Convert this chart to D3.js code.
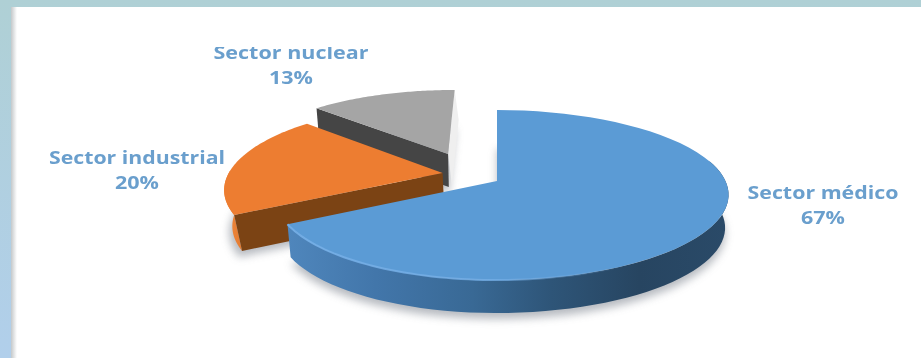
<!DOCTYPE html>
<html>
<head>
<meta charset="utf-8">
<script src="https://cdnjs.cloudflare.com/ajax/libs/d3/7.8.5/d3.min.js"></script>
<style>
html,body{margin:0;padding:0;background:#fff;overflow:hidden}
svg{display:block}
text{font-family:"Open Sans",Lato,sans-serif;font-weight:700;text-anchor:middle}
</style>
</head>
<body>
<svg id="chart" width="921" height="358"></svg>
<script>
// Share of each sector, in percent
const sectors = ["Sector médico", "Sector industrial", "Sector nuclear"];
const shares = [67, 20, 13];

const faceColors = ["#5b9bd5", "#ed7d31", "#a5a5a5"];
const wallColors = ["#2f5f8f", "#7b4314", "#454545"];
const labelColor = "#6a9fcd";

// Exploded offset of each slice on the pie's own plane (unit radius)
const explodeX = [0, -0.248, -0.232];
const explodeY = [0, -0.098, -0.345];
const baseShrink = [0.985, 0.97, 0.985];
const wallDepth = [33, 36, 33];
const labelX = [823, 137, 291];
const labelY = [199, 164, 59];
const nameWidth = [151, 176, 155];
const percentWidth = 44;

// Projection of the tilted disc on to the page
const W = 921, H = 358;
const cx = 497, cy = 181, rx = 224, ry = 82.7, persp = 0.165, skew = 0.02;

const svg = d3.select("#chart");
const defs = svg.append("defs");

const project = (a, b) => {
  const k = 1 / (1 - persp * b);
  return [cx + rx * a * k * (1 + skew * a), cy + ry * b * k];
};
const lower = (i) => ([x, y]) => [cx + (x - cx) * baseShrink[i], y + wallDepth[i]];

// Page frame gradient and panel shadow
const frame = defs.append("linearGradient").attr("id", "frame")
  .attr("x1", 0).attr("x2", 0).attr("y1", 0).attr("y2", 1);
frame.append("stop").attr("offset", 0).attr("stop-color", "#afd0d5");
frame.append("stop").attr("offset", 1).attr("stop-color", "#b1cfeb");

const panelShade = defs.append("linearGradient").attr("id", "panelShade");
panelShade.append("stop").attr("offset", 0).attr("stop-color", "#c4c8ca");
panelShade.append("stop").attr("offset", 1).attr("stop-color", "#ffffff");

// Gradient along the curved wall of the large slice
const blueWall = defs.append("linearGradient").attr("id", "blueWall")
  .attr("gradientUnits", "userSpaceOnUse")
  .attr("x1", 288).attr("x2", 727).attr("y1", 0).attr("y2", 0);
[[0, "#4f86bc"], [0.2, "#4276aa"], [0.42, "#396995"], [0.6, "#2e5578"], [0.8, "#274561"], [1, "#2a4a68"]]
  .forEach(([o, c]) => blueWall.append("stop").attr("offset", o).attr("stop-color", c));

const orangeRim = defs.append("linearGradient").attr("id", "orangeRim")
  .attr("gradientUnits", "userSpaceOnUse")
  .attr("x1", 218).attr("x2", 245).attr("y1", 0).attr("y2", 0);
orangeRim.append("stop").attr("offset", 0).attr("stop-color", "#f68c40");
orangeRim.append("stop").attr("offset", 1).attr("stop-color", "#e27a30");

// Highlight strength fades out before the stroke ends on the right
const blueEdge = defs.append("linearGradient").attr("id", "blueEdge")
  .attr("gradientUnits", "userSpaceOnUse")
  .attr("x1", 288).attr("x2", 625).attr("y1", 0).attr("y2", 0);
[[0, 0.95], [0.6, 0.8], [1, 0]].forEach(([o, a]) => blueEdge.append("stop")
  .attr("offset", o).attr("stop-color", "#74aee6").attr("stop-opacity", a));

const soft = defs.append("filter").attr("id", "soft")
  .attr("x", "-10%").attr("y", "-20%").attr("width", "120%").attr("height", "140%");
soft.append("feGaussianBlur").attr("stdDeviation", 4);
const lineSoft = defs.append("filter").attr("id", "lineSoft")
  .attr("x", "-5%").attr("y", "-5%").attr("width", "110%").attr("height", "110%");
lineSoft.append("feGaussianBlur").attr("stdDeviation", 0.5);

// Letters of the top label run off the edge of the chart area
defs.append("clipPath").attr("id", "plotClip")
  .append("rect").attr("x", 0).attr("y", 47).attr("width", W).attr("height", H - 47);

// Frame behind the white panel
svg.append("rect").attr("width", W).attr("height", H).attr("fill", "url(#frame)");
svg.append("rect").attr("x", 11).attr("y", 7).attr("width", W - 11).attr("height", H - 7).attr("fill", "#fff");
svg.append("rect").attr("x", 11).attr("y", 7).attr("width", 6).attr("height", H - 7).attr("fill", "url(#panelShade)");

const angles = d3.pie().sort(null)(shares);
const line = d3.line();

// Sample the outer edge of one slice between two angles
const edge = (i, t0, t1) => d3.range(0, 61).map(j => {
  const t = t0 + (t1 - t0) * j / 60;
  return project(Math.sin(t) + explodeX[i], -Math.cos(t) + explodeY[i]);
});
const apex = i => project(explodeX[i], explodeY[i]);

const slices = angles.map((d, i) => ({
  i,
  start: d.startAngle,
  end: d.endAngle,
  top: [apex(i), ...edge(i, d.startAngle, d.endAngle)]
}));

// Soft ground shadow below all the slices
const shadow = svg.append("g").attr("filter", "url(#soft)").attr("fill", "#a4a9b0").attr("opacity", 0.8);
slices.forEach(s => shadow.append("path")
  .attr("d", line(s.top.map(p => { const q = lower(s.i)(p); return [q[0] - (s.i === 1 ? 3 : 0), q[1] + 6]; })) + "Z"));

// Back to front: nuclear, industrial, medical
[2, 1, 0].forEach(i => {
  const s = slices[i];
  const g = svg.append("g").attr("class", "slice");
  const drop = lower(i);
  const pEnd = s.top[s.top.length - 1];
  const pStart = s.top[1];
  const c = s.top[0];

  if (i === 2) {
    // Faint shade to the right, then the cut wall facing the viewer
    g.append("path").attr("fill", "#efefef").attr("filter", "url(#lineSoft)")
      .attr("d", line([pEnd, [pEnd[0] + 4, pEnd[1] + 30], [c[0] + 4, c[1] + 32], c]) + "Z");
    g.append("path").attr("fill", wallColors[2])
      .attr("d", line([pStart, c, drop(c), drop(pStart)]) + "Z");
  }
  if (i === 1) {
    // Curved rim, then the cut wall in front of it
    const rim = edge(1, s.start, s.start + (Math.PI * 2 * 0.085));
    g.append("path").attr("fill", "url(#orangeRim)")
      .attr("d", line([...rim, ...rim.map(drop).reverse()]) + "Z");
    g.append("path").attr("fill", wallColors[1])
      .attr("d", line([c, s.top[1], drop(s.top[1]), drop(c)]) + "Z");
  }
  if (i === 0) {
    // Outer wall from the front round to the far right
    const rim = edge(0, Math.PI * 0.42, s.end);
    g.append("path").attr("fill", "url(#blueWall)")
      .attr("d", line([...rim, ...rim.map(drop).reverse()]) + "Z");
  }

  g.append("path").attr("fill", faceColors[i]).attr("d", line(s.top) + "Z");

  if (i === 0) {
    // Bevel highlight along the front edge of the face
    g.append("path").attr("fill", "none").attr("stroke", "url(#blueEdge)")
      .attr("stroke-width", 2)
      .attr("d", line(edge(0, Math.PI * 0.8, s.end)));
  }
});

// Two-line data labels
const labels = svg.append("g").attr("filter", "url(#lineSoft)");
sectors.forEach((name, i) => {
  const g = labels.append("g").attr("clip-path", "url(#plotClip)");
  g.append("text").attr("x", labelX[i]).attr("y", labelY[i])
    .attr("font-size", 18).attr("fill", labelColor)
    .attr("textLength", nameWidth[i]).attr("lengthAdjust", "spacingAndGlyphs").text(name);
  g.append("text").attr("x", labelX[i]).attr("y", labelY[i] + 25)
    .attr("font-size", 18).attr("fill", labelColor)
    .attr("textLength", percentWidth).attr("lengthAdjust", "spacingAndGlyphs").text(shares[i] + "%");
});
</script>
</body>
</html>
